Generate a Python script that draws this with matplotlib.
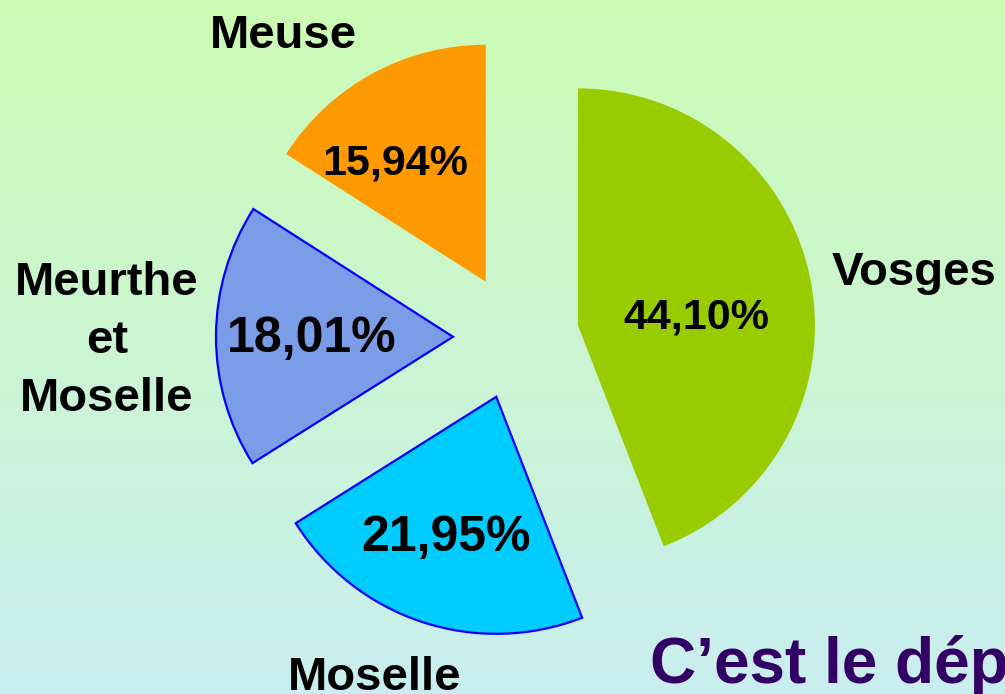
import numpy as np
import matplotlib.pyplot as plt

# Répartition par département
departements = ["Vosges", "Moselle", "Meurthe\net\nMoselle", "Meuse"]
parts = [44.10, 21.95, 18.01, 15.94]
couleurs = ["#99CC00", "#00CCFF", "#7B9CE6", "#FF9900"]
bordures = [None, "#0000FF", "#0000FF", None]

W, H = 1005, 694

fig = plt.figure(figsize=(W / 100, H / 100), dpi=100)
ax = fig.add_axes([0, 0, 1, 1])

# fond dégradé vert clair -> bleu clair
haut = np.array([205, 252, 180]) / 255
bas = np.array([201, 238, 240]) / 255
t = np.linspace(0, 1, 256)[:, None]
grad = (haut * (1 - t) + bas * t)[:, None, :]
ax.imshow(grad, extent=[0, W, 0, H], aspect="auto", zorder=0)

wedges, _ = ax.pie(parts, colors=couleurs, startangle=90, counterclock=False,
                   center=(516, H - 337), radius=237, explode=[63] * 4,
                   frame=True)
for w, b in zip(wedges, bordures):
    w.set_zorder(2)
    if b:
        w.set_edgecolor(b)
        w.set_linewidth(1.6)
    else:
        w.set_linewidth(0)

ax.set_xlim(0, W)
ax.set_ylim(0, H)
ax.set_aspect("auto")
ax.axis("off")

police = "Liberation Sans"

# pourcentages dans les secteurs
pos_pct = [(696, 317), (446, 538), (312, 339), (395, 163)]
taille_pct = [31, 36, 36, 31]
for p, (x, y), s in zip(parts, pos_pct, taille_pct):
    txt = f"{p:.2f}%".replace(".", ",")
    ax.text(x, H - y, txt, ha="center", va="center", fontsize=s,
            fontweight="bold", family=police, color="black", zorder=3)

# noms des départements
pos_nom = [(914, 273), (375, 678), (107, 341), (283, 36)]
for nom, (x, y) in zip(departements, pos_nom):
    ax.text(x, H - y, nom, ha="center", va="center", fontsize=34,
            fontweight="bold", family=police, color="black",
            linespacing=1.4, zorder=3)

ax.text(650, H - 683, "C\u2019est le département des Vosges", ha="left",
        va="baseline", fontsize=46, fontweight="bold", family=police,
        color="#330066", zorder=3)

fig.savefig("out.png", dpi=100)
